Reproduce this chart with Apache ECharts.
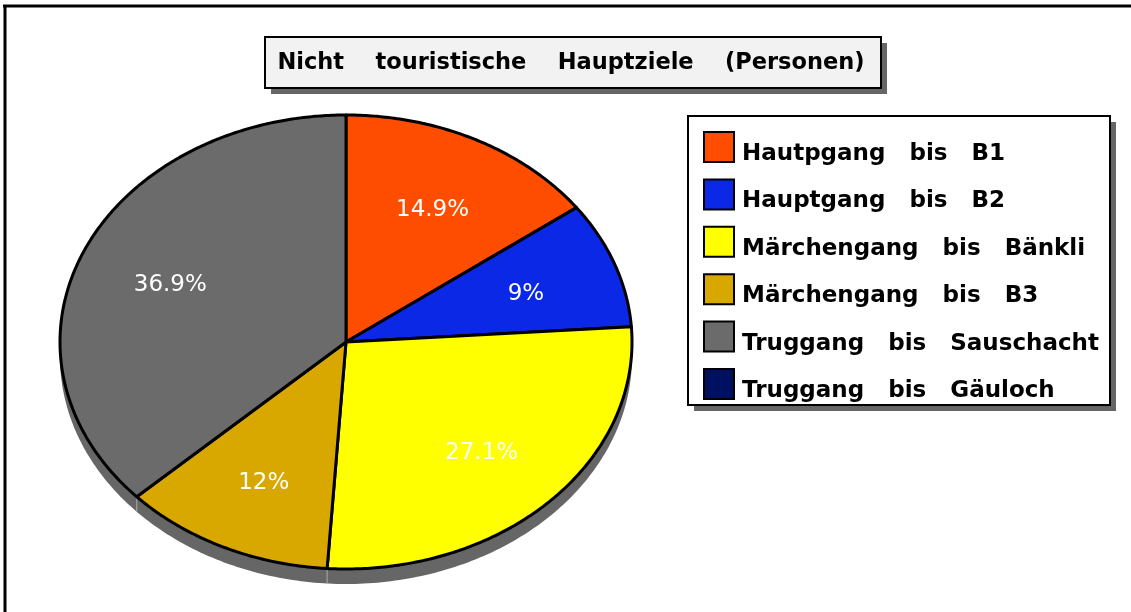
<!DOCTYPE html>
<html>
<head>
<meta charset="utf-8">
<script src="https://cdn.jsdelivr.net/npm/echarts@6/dist/echarts.min.js"></script>
<style>
html,body{margin:0;padding:0;background:#fff;}
#chart{width:1131px;height:612px;}
</style>
</head>
<body>
<div id="chart"></div>
<script>
const chartTitle = 'Nicht touristische Hauptziele (Personen)';
const categories = ['Hautpgang bis B1', 'Hauptgang bis B2', 'Märchengang bis Bänkli', 'Märchengang bis B3', 'Truggang bis Sauschacht', 'Truggang bis Gäuloch'];
const values = [14.9, 9, 27.1, 12, 36.9, 0];
const colors = ['#ff4d00', '#0a28e6', '#ffff00', '#d8a800', '#6b6b6b', '#001060'];

const total = values.reduce((a, b) => a + b, 0);
const starts = [];
let acc = 0;
values.forEach(v => { starts.push(acc); acc += v; });
const DEPTH = 15;
const wide = (s, n) => s.split(' ').join(' '.repeat(n));

function angleOf(frac) { return frac * 2 * Math.PI; }
function pt(api, t, r) { return api.coord([r * Math.sin(t), r * Math.cos(t)]); }

function sliceRender(i) {
  return function (params, api) {
    const v = values[i];
    if (!v) return null;
    const a0 = angleOf(starts[i] / total), a1 = angleOf((starts[i] + v) / total);
    const pts = [api.coord([0, 0])];
    const n = Math.max(8, Math.ceil((a1 - a0) / 0.01));
    for (let k = 0; k <= n; k++) pts.push(pt(api, a0 + (a1 - a0) * k / n, 1));
    const mid = (a0 + a1) / 2;
    const lp = pt(api, mid, 0.67);
    const pct = Math.round(v / total * 1000) / 10;
    return {
      type: 'group',
      children: [
        { type: 'polygon', shape: { points: pts }, style: { fill: colors[i], stroke: '#000', lineWidth: 3, lineJoin: 'round' } },
        { type: 'text', x: lp[0], y: lp[1] + 4, style: { text: pct + '%', fill: '#fff', font: '23px "DejaVu Sans"', align: 'center', verticalAlign: 'middle' } }
      ]
    };
  };
}

function sideRender(params, api) {
  const pts = [];
  const n = 200;
  for (let k = 0; k <= n; k++) {
    const t = Math.PI / 2 + Math.PI * k / n;
    const p = pt(api, t, 1);
    pts.push([p[0], p[1] + DEPTH]);
  }
  for (let k = 0; k <= n; k++) {
    const t = 1.5 * Math.PI + Math.PI * k / n;
    pts.push(pt(api, t, 1));
  }
  const children = [{ type: 'polygon', shape: { points: pts }, style: { fill: '#666', stroke: null } }];
  starts.forEach((s, i) => {
    if (!values[i]) return;
    const t = angleOf(s / total);
    if (Math.cos(t) < 0) {
      const p = pt(api, t, 1);
      children.push({ type: 'line', shape: { x1: p[0], y1: p[1], x2: p[0], y2: p[1] + DEPTH }, style: { stroke: '#aaa', lineWidth: 1 } });
    }
  });
  return { type: 'group', children };
}

const series = [{
  type: 'custom', name: '_side', data: [[0, 0]], renderItem: sideRender, z: 1, silent: true, clip: false
}];
categories.forEach((c, i) => {
  series.push({
    type: 'custom', name: c, data: [[0, 0]], renderItem: sliceRender(i), z: 2, clip: false,
    itemStyle: { color: colors[i] }
  });
});

const chart = echarts.init(document.getElementById('chart'));
chart.setOption({
  animation: false,
  grid: { left: 60, top: 115, width: 572, height: 454 },
  xAxis: { type: 'value', min: -1, max: 1, show: false },
  yAxis: { type: 'value', min: -1, max: 1, show: false },
  graphic: [
    { type: 'line', shape: { x1: 3, y1: 6, x2: 1131, y2: 6 }, style: { stroke: '#000', lineWidth: 3 }, z: 10 },
    { type: 'line', shape: { x1: 5, y1: 5, x2: 5, y2: 612 }, style: { stroke: '#000', lineWidth: 3 }, z: 10 },
    { type: 'rect', shape: { x: 271, y: 43, width: 616, height: 51 }, style: { fill: '#666' }, z: 0 },
    { type: 'rect', shape: { x: 265, y: 37, width: 616, height: 51 }, style: { fill: '#f2f2f2', stroke: '#000', lineWidth: 2 }, z: 0 },
    { type: 'rect', shape: { x: 694, y: 122, width: 422, height: 289 }, style: { fill: '#666' }, z: 0 },
    { type: 'rect', shape: { x: 688, y: 116, width: 422, height: 289 }, style: { fill: '#fff', stroke: '#000', lineWidth: 2 }, z: 0 }
  ],
  title: {
    text: wide(chartTitle, 4), left: 571, top: 52, textAlign: 'center', padding: 0,
    textStyle: { fontFamily: 'DejaVu Sans', fontSize: 22.5, fontWeight: 'bold', color: '#000' }
  },
  legend: {
    data: categories, orient: 'vertical', left: 703, top: 131, padding: 0,
    itemWidth: 30, itemHeight: 44, itemGap: 1.4,
    icon: 'path://M0,0 L30,0 L30,30 L0,30 Z M30,44',
    itemStyle: { borderColor: '#000', borderWidth: 2 },
    formatter: n => wide(n, 3),
    textStyle: { fontFamily: 'DejaVu Sans', fontSize: 23, fontWeight: 'bold', color: '#000', padding: [0, 0, 0, 3] },
    selectedMode: false
  },
  series
});
</script>
</body>
</html>
